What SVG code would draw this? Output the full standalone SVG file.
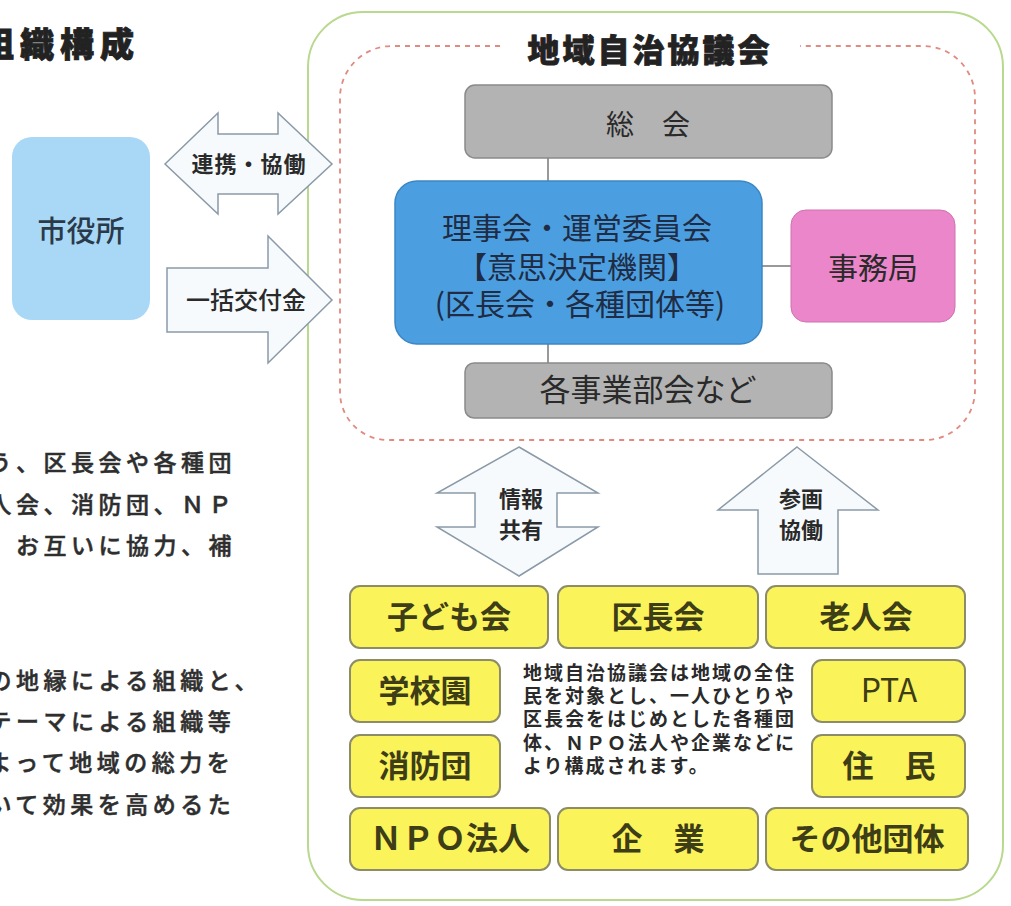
<svg xmlns="http://www.w3.org/2000/svg" width="1011" height="906" viewBox="0 0 1011 906">
<defs>
<style>
text{font-family:"Noto Sans CJK JP","Noto Sans",sans-serif;fill:#2a2a2a}
.para{font-size:23px;font-weight:500;letter-spacing:4.5px;fill:#2e2e2e;stroke:#2e2e2e;stroke-width:0.5}
.gray{fill:#b3b3b3;stroke:#8a8a8a;stroke-width:1.5}
.yel{fill:#fbf35a;stroke:#8c8c68;stroke-width:2}
.ytx{font-size:31px;font-weight:700;fill:#3d3d18;text-anchor:middle}
.arr{fill:#f6fafd;stroke:#8b9aa8;stroke-width:1.5}
.atx{font-size:22px;font-weight:700;text-anchor:middle;fill:#2a2a2a}
.ctr{text-anchor:middle}
.conn{stroke:#555;stroke-width:1.2;fill:none}
</style>
</defs>
<rect width="1011" height="906" fill="#ffffff"/>

<g id="left-title">
<text x="-20" y="57" style="font-size:34px;font-weight:900;letter-spacing:6px;fill:#222;stroke:#222;stroke-width:0.8">組織構成</text>
</g>

<g id="left-paragraph">
<text class="para" x="-11.5" y="471">う、区長会や各種団</text>
<text class="para" x="-11.5" y="513">人会、消防団、ＮＰ</text>
<text class="para" x="16" y="554">お互いに協力、補</text>
<text class="para" x="-11.5" y="689">の地縁による組織と、</text>
<text class="para" x="-11.5" y="730">テーマによる組織等</text>
<text class="para" x="-11.5" y="771">よって地域の総力を</text>
<text class="para" x="-11.5" y="813">いて効果を高めるた</text>
</g>

<g id="council-frame">
<rect x="308" y="12" width="695" height="888" rx="55" fill="#ffffff" stroke="#b8d98e" stroke-width="2"/>
<path d="M500,46 H392 A52,52 0 0 0 340,98 V392 A48,48 0 0 0 388,440 H925 A50,50 0 0 0 975,390 V98 A52,52 0 0 0 923,46 H800" fill="none" stroke="#e08a80" stroke-width="1.8" stroke-dasharray="5,5"/>
<text x="650" y="62" class="ctr" style="font-size:32px;font-weight:900;letter-spacing:3px;fill:#222;stroke:#222;stroke-width:0.8">地域自治協議会</text>
</g>

<g id="connectors">
<line class="conn" x1="548" y1="158" x2="548" y2="181"/>
<line class="conn" x1="548" y1="344" x2="548" y2="363"/>
<line class="conn" x1="761" y1="266" x2="791" y2="266"/>
<g id="arrow-renkei">
<polygon class="arr" points="165,164 218,113 218,134 278,134 278,113 332,164 278,214 278,194 218,194 218,214"/>
<text class="atx" x="249" y="172" style="letter-spacing:1px">連携・協働</text>
</g>
<g id="arrow-koufukin">
<polygon class="arr" points="167,268 268,268 268,236 332,300 268,363 268,332 167,332"/>
<text class="atx" x="246" y="309" style="font-size:24px;font-weight:500">一括交付金</text>
</g>
<g id="arrow-jouhou">
<polygon class="arr" points="519,447 598,493 557,493 557,527 598,527 519,576 437,527 475,527 475,493 437,493"/>
<text class="atx" x="521" y="507">情報</text>
<text class="atx" x="521" y="538">共有</text>
</g>
<g id="arrow-sankaku">
<polygon class="arr" points="797,447 878,510 838,510 838,574 758,574 758,510 718,510"/>
<text class="atx" x="801" y="507">参画</text>
<text class="atx" x="801" y="538">協働</text>
</g>
</g>

<g id="shiyakusho">
<rect x="12" y="137" width="138" height="183" rx="20" fill="#a9d8f7"/>
<text x="81" y="242" class="ctr" style="font-size:29px;font-weight:500;fill:#2b3a4a">市役所</text>
</g>

<g id="soukai">
<rect class="gray" x="465" y="85" width="367" height="73" rx="10"/>
<text x="648" y="135" class="ctr" style="font-size:28px">総　会</text>
</g>

<g id="rijikai">
<rect x="395" y="181" width="367" height="163" rx="22" fill="#4b9fe1" stroke="#3d86c4" stroke-width="1.5"/>
<text x="577" y="239" class="ctr" style="font-size:30px;fill:#1f2c44">理事会・運営委員会</text>
<text x="577" y="278" class="ctr" style="font-size:30px;fill:#1f2c44">【意思決定機関】</text>
<text x="580" y="315" class="ctr" style="font-size:30px;fill:#1f2c44">(区長会・各種団体等)</text>
</g>

<g id="jimukyoku">
<rect x="791" y="210" width="164" height="112" rx="15" fill="#ea86c9" stroke="#cf72ae" stroke-width="1"/>
<text x="873" y="279" class="ctr" style="font-size:30px">事務局</text>
</g>

<g id="bukai">
<rect class="gray" x="465" y="363" width="367" height="55" rx="9"/>
<text x="648" y="401" class="ctr" style="font-size:31px">各事業部会など</text>
</g>

<g id="kodomokai"><rect class="yel" x="350" y="586" width="198" height="62" rx="10"/><text class="ytx" x="449" y="628">子ども会</text></g>
<g id="kuchoukai"><rect class="yel" x="558" y="586" width="200" height="62" rx="10"/><text class="ytx" x="658" y="628">区長会</text></g>
<g id="roujinkai"><rect class="yel" x="766" y="586" width="199" height="62" rx="10"/><text class="ytx" x="866" y="628">老人会</text></g>
<g id="gakkouen"><rect class="yel" x="350" y="660" width="150" height="62" rx="10"/><text class="ytx" x="425" y="702">学校園</text></g>
<g id="pta"><rect class="yel" x="812" y="660" width="153" height="62" rx="10"/><text class="ytx" x="889" y="702" style="font-weight:400;font-size:32px">PTA</text></g>
<g id="shouboudan"><rect class="yel" x="350" y="735" width="150" height="62" rx="10"/><text class="ytx" x="425" y="777">消防団</text></g>
<g id="juumin"><rect class="yel" x="812" y="735" width="153" height="62" rx="10"/><text class="ytx" x="889" y="777">住　民</text></g>
<g id="npo"><rect class="yel" x="350" y="808" width="200" height="62" rx="10"/><text class="ytx" x="450" y="850" style="font-size:32px">ＮＰＯ法人</text></g>
<g id="kigyou"><rect class="yel" x="558" y="808" width="200" height="62" rx="10"/><text class="ytx" x="658" y="850">企　業</text></g>
<g id="sonota"><rect class="yel" x="766" y="808" width="202" height="62" rx="10"/><text class="ytx" x="867" y="850">その他団体</text></g>

<g id="center-note" style="font-size:19px;font-weight:700;letter-spacing:2px">
<text x="523" y="680">地域自治協議会は地域の全住</text>
<text x="523" y="703">民を対象とし、一人ひとりや</text>
<text x="523" y="726">区長会をはじめとした各種団</text>
<text x="523" y="750">体、ＮＰＯ法人や企業などに</text>
<text x="523" y="773">より構成されます。</text>
</g>
</svg>
